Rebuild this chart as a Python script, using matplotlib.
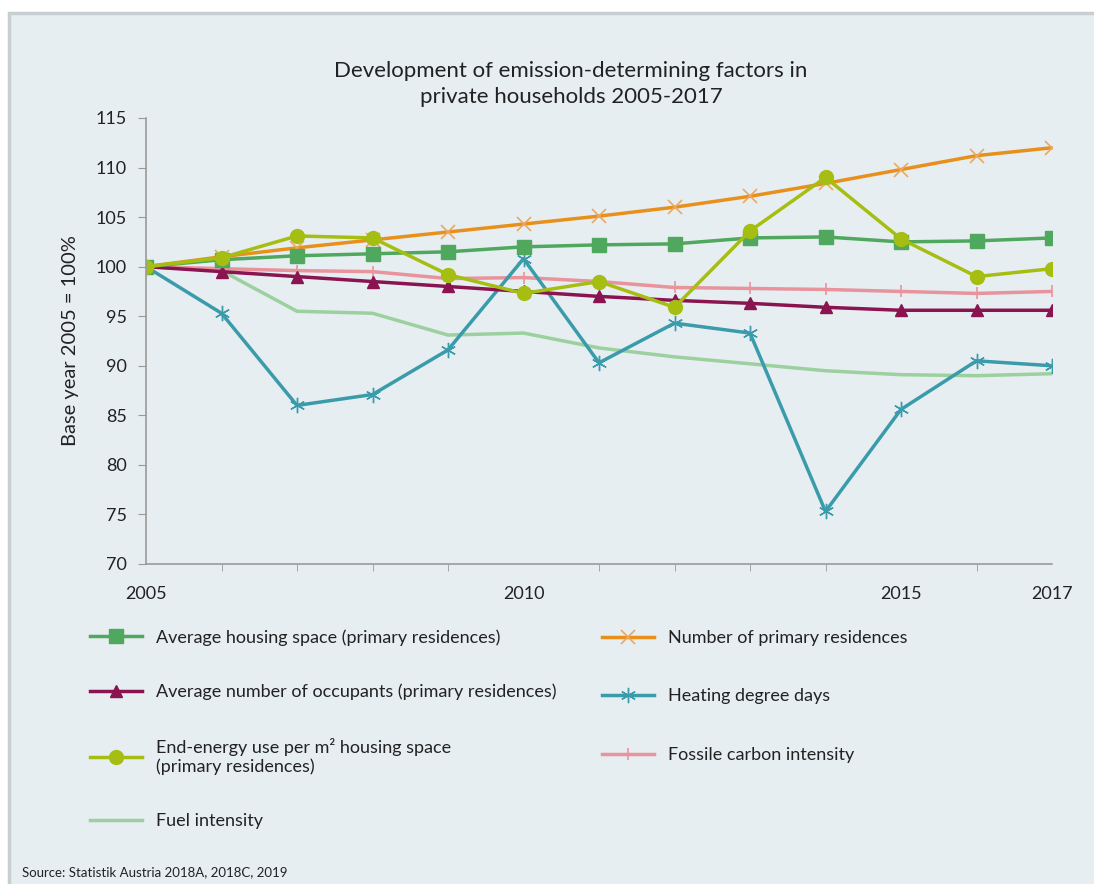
import matplotlib
matplotlib.use("Agg")
import matplotlib.pyplot as plt
from matplotlib.patches import Rectangle
from matplotlib.ticker import MultipleLocator

plt.rcParams['font.family'] = ['Lato', 'DejaVu Sans']

years = list(range(2005, 2018))
housing_space = [100, 100.7, 101.1, 101.3, 101.5, 102.0, 102.2, 102.3, 102.9, 103.0, 102.5, 102.6, 102.9]
occupants = [100, 99.5, 99.0, 98.5, 98.0, 97.5, 97.0, 96.6, 96.3, 95.9, 95.6, 95.6, 95.6]
end_energy = [100, 100.9, 103.1, 102.9, 99.2, 97.3, 98.5, 95.9, 103.6, 109.0, 102.8, 99.0, 99.8]
fuel_intensity = [100, 99.6, 95.5, 95.3, 93.1, 93.3, 91.8, 90.9, 90.2, 89.5, 89.1, 89.0, 89.2]
residences = [100, 101.0, 101.9, 102.7, 103.5, 104.3, 105.1, 106.0, 107.1, 108.4, 109.8, 111.2, 112.0]
heating_dd = [100, 95.3, 86.0, 87.1, 91.6, 100.8, 90.3, 94.3, 93.3, 75.3, 85.6, 90.5, 90.0]
fossil_carbon = [100, 99.8, 99.6, 99.5, 98.8, 98.9, 98.5, 97.9, 97.8, 97.7, 97.5, 97.3, 97.5]

bg = '#e6eef2'
txt = '#222222'

fig = plt.figure(figsize=(10.94, 8.84), dpi=100)
fig.patch.set_facecolor('white')
panel = Rectangle((9 / 1094, -0.01), 1.02, 1 - 13 / 884 + 0.01, transform=fig.transFigure,
                  facecolor=bg, edgecolor='#c8cfd3', linewidth=2.5, zorder=-5)
fig.patches.append(panel)

ax = fig.add_axes([146 / 1094, 1 - 564 / 884, (1052 - 146) / 1094, (564 - 118) / 884])
ax.set_facecolor('none')
ax.set_zorder(2)

lw = 2.5
l1, = ax.plot(years, fuel_intensity, color='#9dd09f', lw=lw, label='Fuel intensity')
l2, = ax.plot(years, fossil_carbon, color='#e9939c', lw=lw, marker='|', ms=9, mew=1.2,
              label='Fossile carbon intensity')
l3, = ax.plot(years, heating_dd, color='#3a9bab', lw=lw, marker=(6, 2, 0), ms=11, mew=1.0,
              label='Heating degree days')
l4, = ax.plot(years, occupants, color='#8a1450', lw=lw, marker='^', ms=9,
              label='Average number of occupants (primary residences)')
l5, = ax.plot(years, residences, color='#e8901c', lw=lw, marker='x', ms=10, mew=1.2,
              mec='#eba860', label='Number of primary residences')
l6, = ax.plot(years, housing_space, color='#4fa85d', lw=lw, marker='s', ms=10,
              label='Average housing space (primary residences)')
l7, = ax.plot(years, end_energy, color='#a6be12', lw=lw, marker='o', ms=10,
              label='End-energy use per m² housing space\n(primary residences)')

ax.set_xlim(2005, 2017)
ax.set_ylim(70, 115)
ax.set_xticks([2005, 2010, 2015, 2017])
ax.xaxis.set_minor_locator(MultipleLocator(1))
ax.yaxis.set_major_locator(MultipleLocator(5))
for s in ['top', 'right']:
    ax.spines[s].set_visible(False)
for s in ['left', 'bottom']:
    ax.spines[s].set_color('#9a9a9a')
    ax.spines[s].set_linewidth(1.2)
ax.tick_params(axis='y', direction='out', length=6, color='#9a9a9a', labelsize=13,
               labelcolor=txt, pad=8)
ax.tick_params(axis='x', which='major', direction='out', length=0, labelsize=13,
               labelcolor=txt, pad=16)
ax.tick_params(axis='x', which='minor', direction='out', length=5, color='#9a9a9a')
ax.set_ylabel('Base year 2005 = 100%', fontsize=14.5, color=txt, labelpad=12)

fig.text(571 / 1094, 1 - 84 / 884, 'Development of emission-determining factors in\nprivate households 2005-2017',
         ha='center', va='center', fontsize=16, color=txt, linespacing=1.35)

common = dict(frameon=False, fontsize=13, handlelength=2.9, handletextpad=0.75,
              borderpad=0, borderaxespad=0, labelcolor=txt)
leg1 = fig.legend([l6, l4, l7, l1], [l6.get_label(), l4.get_label(), l7.get_label(), l1.get_label()],
                  loc='upper left', bbox_to_anchor=(90 / 1094, 1 - 629 / 884), labelspacing=2.1, **common)
leg2 = fig.legend([l5, l3, l2], [l5.get_label(), l3.get_label(), l2.get_label()],
                  loc='upper left', bbox_to_anchor=(602 / 1094, 1 - 630 / 884), labelspacing=2.35, **common)

fig.text(22 / 1094, 1 - 872 / 884, 'Source: Statistik Austria 2018A, 2018C, 2019',
         ha='left', va='center', fontsize=9.5, color=txt)

fig.savefig('out.png', dpi=100, facecolor=fig.get_facecolor())
